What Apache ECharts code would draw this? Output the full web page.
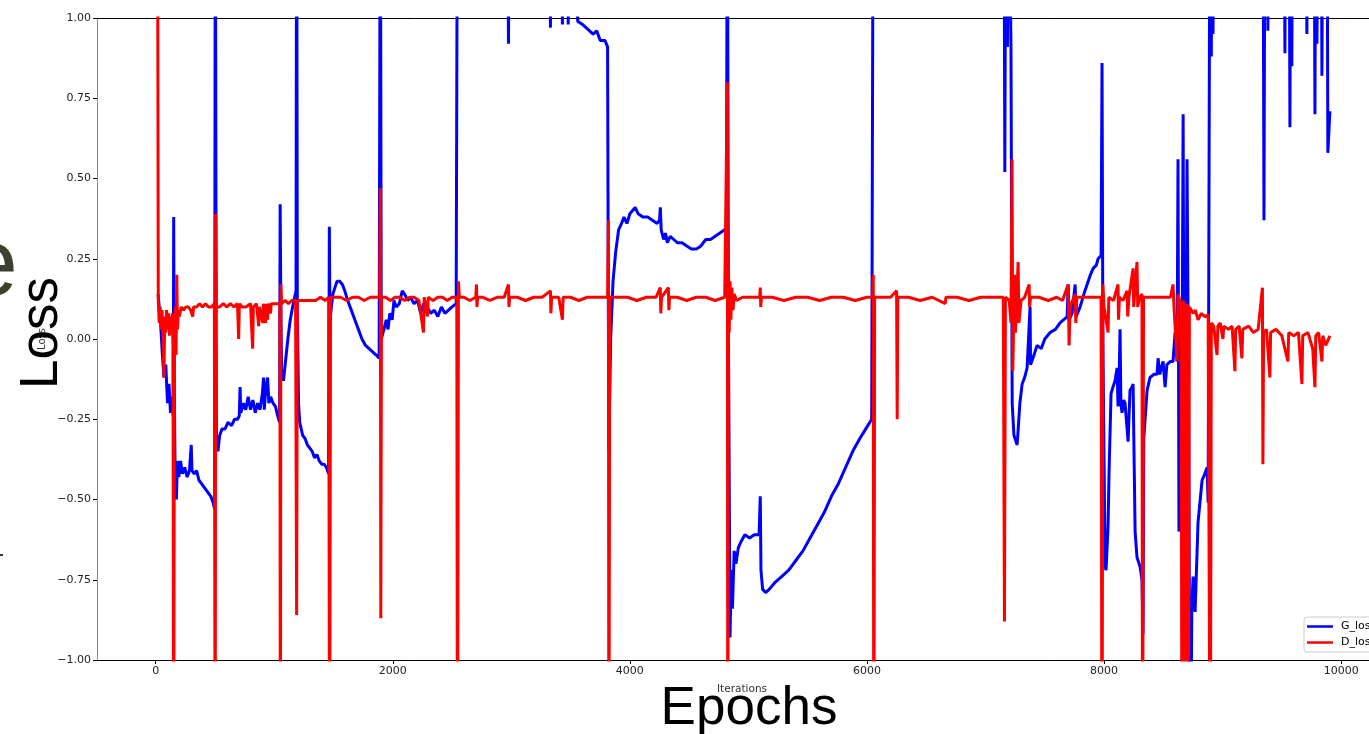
<!DOCTYPE html>
<html>
<head>
<meta charset="utf-8">
<style>
html,body{margin:0;padding:0;background:#fff;}
#c{width:1369px;height:734px;}
</style>
<script src="https://cdn.jsdelivr.net/npm/echarts@6/dist/echarts.min.js"></script>
</head>
<body>
<div id="c"></div>
<script>
// ---- data (iteration, loss); values beyond +/-1 are clipped by the axis ----
const seriesNames = ['G_loss', 'D_loss'];
const xTickValues = [0, 2000, 4000, 6000, 8000, 10000];

const G_loss = [
[20,0.14],[40,0.06],[55,-0.04],[70,-0.12],[85,-0.08],[100,-0.2],[112,-0.14],[125,-0.23],[138,-0.18],[148,-0.24],[152,0.38],[157,-0.15],[165,-0.45],[175,-0.5],[183,-0.38],[195,-0.43],[210,-0.38],[225,-0.42],[245,-0.4],[265,-0.43],[285,-0.41],[300,-0.33],[306,-0.41],[325,-0.42],[345,-0.41],[365,-0.44],[385,-0.45],[405,-0.46],[425,-0.47],[445,-0.48],[465,-0.49],[485,-0.51],[497,-0.53],[503,1.6],[512,-0.3],[525,-0.35],[540,-0.3],[560,-0.28],[585,-0.28],[610,-0.26],[640,-0.27],[665,-0.25],[690,-0.25],[705,-0.24],[712,-0.15],[718,-0.23],[740,-0.2],[760,-0.22],[780,-0.18],[800,-0.22],[820,-0.19],[840,-0.23],[860,-0.2],[880,-0.22],[900,-0.17],[910,-0.12],[916,-0.22],[930,-0.15],[944,-0.12],[955,-0.2],[970,-0.18],[990,-0.2],[1010,-0.21],[1030,-0.24],[1045,-0.26],[1050,0.42],[1056,0.1],[1062,-0.1],[1078,-0.13],[1095,-0.07],[1115,0.0],[1135,0.06],[1155,0.1],[1172,0.13],[1184,0.15],[1189,1.6],[1195,0.1],[1205,-0.2],[1215,-0.26],[1240,-0.3],[1260,-0.31],[1280,-0.33],[1300,-0.34],[1320,-0.35],[1340,-0.37],[1360,-0.36],[1380,-0.38],[1400,-0.39],[1420,-0.39],[1440,-0.4],[1458,-0.42],[1465,0.35],[1470,0.05],[1482,0.1],[1495,0.14],[1512,0.16],[1530,0.18],[1552,0.18],[1575,0.17],[1595,0.15],[1620,0.12],[1650,0.09],[1680,0.06],[1710,0.03],[1740,0.0],[1770,-0.02],[1800,-0.03],[1830,-0.04],[1860,-0.05],[1885,-0.06],[1895,1.6],[1903,0.0],[1925,0.03],[1945,0.06],[1960,0.03],[1975,0.08],[1995,0.06],[2010,0.12],[2030,0.1],[2055,0.11],[2080,0.15],[2100,0.14],[2125,0.12],[2150,0.13],[2180,0.11],[2210,0.12],[2235,0.08],[2260,0.11],[2290,0.1],[2320,0.08],[2350,0.09],[2380,0.07],[2410,0.1],[2440,0.08],[2470,0.09],[2500,0.1],[2535,0.11],[2546,1.6],[2965,1.6],[2976,0.92],[2986,1.6],[3320,1.6],[3330,0.97],[3340,1.6],[3420,1.6],[3431,0.98],[3440,1.6],[3470,1.6],[3480,0.98],[3490,1.6],[3540,1.6],[3560,0.99],[3600,0.98],[3630,0.97],[3660,0.96],[3690,0.95],[3720,0.96],[3750,0.93],[3790,0.93],[3812,0.91],[3822,-0.35],[3838,0.0],[3858,0.18],[3880,0.27],[3905,0.34],[3930,0.36],[3950,0.38],[3975,0.36],[4000,0.39],[4045,0.41],[4070,0.39],[4110,0.38],[4150,0.38],[4190,0.37],[4230,0.36],[4250,0.37],[4257,0.41],[4264,0.34],[4285,0.31],[4300,0.33],[4316,0.3],[4340,0.32],[4370,0.31],[4400,0.3],[4440,0.3],[4480,0.29],[4520,0.28],[4560,0.28],[4600,0.29],[4640,0.31],[4680,0.31],[4720,0.32],[4760,0.33],[4800,0.34],[4815,0.35],[4822,1.6],[4832,0.0],[4845,-0.93],[4855,-0.72],[4865,-0.84],[4880,-0.66],[4895,-0.7],[4915,-0.65],[4940,-0.63],[4970,-0.61],[5010,-0.62],[5050,-0.61],[5090,-0.61],[5100,-0.49],[5106,-0.72],[5120,-0.78],[5145,-0.79],[5175,-0.78],[5220,-0.76],[5280,-0.74],[5340,-0.72],[5400,-0.69],[5460,-0.66],[5520,-0.62],[5580,-0.58],[5640,-0.54],[5700,-0.49],[5760,-0.45],[5820,-0.4],[5880,-0.35],[5940,-0.31],[5990,-0.28],[6040,-0.25],[6053,1.6],[7155,1.6],[7163,0.52],[7172,1.6],[7185,0.91],[7195,1.6],[7215,0.9],[7225,-0.2],[7240,-0.3],[7267,-0.33],[7290,-0.2],[7309,-0.14],[7330,-0.12],[7351,-0.09],[7376,0.1],[7380,-0.08],[7400,-0.06],[7435,-0.02],[7470,-0.03],[7500,0.0],[7545,0.02],[7590,0.03],[7629,0.05],[7660,0.06],[7689,0.07],[7697,0.17],[7705,0.06],[7730,0.08],[7756,0.17],[7765,0.07],[7798,0.1],[7830,0.14],[7857,0.17],[7885,0.2],[7908,0.22],[7935,0.23],[7950,0.25],[7975,0.26],[7983,0.86],[7990,0.0],[8009,-0.71],[8017,-0.72],[8034,-0.58],[8042,-0.42],[8059,-0.17],[8075,-0.15],[8093,-0.13],[8110,-0.09],[8118,-0.21],[8126,-0.15],[8135,0.03],[8142,-0.2],[8152,-0.23],[8165,-0.19],[8177,-0.2],[8203,-0.32],[8219,-0.16],[8235,-0.15],[8245,-0.14],[8262,-0.6],[8278,-0.68],[8304,-0.71],[8320,-0.75],[8329,-0.92],[8335,-0.31],[8363,-0.16],[8388,-0.12],[8420,-0.11],[8447,-0.11],[8456,-0.06],[8470,-0.11],[8498,-0.07],[8515,-0.15],[8530,-0.08],[8560,-0.07],[8582,-0.07],[8599,0.02],[8616,-0.07],[8624,0.56],[8632,-0.6],[8645,-0.45],[8655,-0.4],[8667,0.70],[8680,-0.9],[8700,0.56],[8715,-0.3],[8726,-1.6],[8740,-0.85],[8751,-0.74],[8768,-0.85],[8793,-0.57],[8827,-0.44],[8850,-0.42],[8869,-0.40],[8878,-0.51],[8894,1.6],[8905,0.88],[8912,1.6],[8919,0.95],[8930,1.6],[9340,1.6],[9349,0.37],[9358,1.6],[9375,1.6],[9382,0.96],[9390,1.6],[9515,1.6],[9526,0.89],[9532,1.6],[9560,1.6],[9568,0.66],[9576,1.6],[9584,0.85],[9592,1.6],[9700,1.6],[9711,0.95],[9720,1.6],[9770,1.6],[9779,0.70],[9787,1.6],[9796,0.92],[9805,1.6],[9830,1.6],[9838,0.82],[9846,1.6],[9880,1.6],[9888,0.58],[9905,0.71]
];

const D_loss = [
[15,1.6],[22,0.12],[30,0.05],[38,0.1],[46,0.03],[54,0.09],[62,0.02],[70,-0.12],[76,0.07],[84,0.02],[92,0.09],[100,0.03],[108,0.08],[116,0.01],[124,0.07],[132,0.02],[140,0.08],[146,-0.02],[152,-1.6],[158,0.04],[166,0.1],[172,-0.05],[178,0.2],[184,0.03],[192,0.09],[200,0.07],[215,0.1],[235,0.09],[255,0.1],[275,0.1],[295,0.09],[312,0.07],[320,0.1],[345,0.1],[370,0.11],[395,0.1],[420,0.11],[445,0.1],[470,0.1],[495,0.11],[502,-1.6],[506,0.39],[512,0.1],[540,0.1],[570,0.11],[600,0.1],[630,0.11],[660,0.1],[690,0.11],[700,0.0],[706,0.11],[730,0.1],[760,0.1],[800,0.11],[818,-0.03],[824,0.1],[850,0.11],[869,0.04],[875,0.1],[903,0.05],[908,0.11],[928,0.05],[934,0.11],[944,0.06],[950,0.11],[969,0.08],[975,0.11],[1000,0.11],[1025,0.11],[1048,0.11],[1052,-1.6],[1056,0.17],[1062,0.11],[1090,0.12],[1120,0.11],[1150,0.12],[1180,0.12],[1189,-0.86],[1195,0.12],[1230,0.12],[1270,0.12],[1310,0.12],[1350,0.12],[1390,0.13],[1430,0.12],[1460,0.13],[1467,-1.6],[1475,0.13],[1510,0.13],[1560,0.13],[1610,0.12],[1660,0.13],[1710,0.13],[1760,0.12],[1810,0.13],[1860,0.13],[1890,0.13],[1895,0.47],[1899,-0.87],[1905,0.13],[1940,0.13],[1980,0.12],[2020,0.13],[2060,0.13],[2100,0.12],[2140,0.13],[2180,0.13],[2220,0.12],[2259,0.02],[2265,0.13],[2293,0.07],[2299,0.13],[2340,0.12],[2380,0.13],[2420,0.13],[2460,0.12],[2500,0.13],[2540,0.13],[2546,-1.6],[2554,0.18],[2562,0.13],[2600,0.13],[2650,0.12],[2700,0.13],[2706,0.17],[2710,0.1],[2716,0.13],[2760,0.13],[2820,0.12],[2880,0.13],[2940,0.13],[2976,0.17],[2980,0.1],[2986,0.13],[3050,0.13],[3120,0.12],[3190,0.13],[3260,0.13],[3330,0.15],[3334,0.08],[3340,0.13],[3400,0.13],[3431,0.06],[3437,0.13],[3500,0.13],[3570,0.12],[3640,0.13],[3710,0.13],[3780,0.13],[3812,0.13],[3819,0.37],[3823,-1.6],[3830,0.13],[3900,0.13],[3980,0.13],[4060,0.12],[4140,0.13],[4220,0.13],[4257,0.16],[4261,0.08],[4267,0.13],[4325,0.16],[4329,0.09],[4335,0.13],[4400,0.13],[4480,0.12],[4560,0.13],[4640,0.13],[4720,0.12],[4800,0.13],[4815,0.13],[4822,0.8],[4826,-1.6],[4832,0.22],[4838,0.02],[4845,0.18],[4852,0.06],[4860,0.16],[4870,0.09],[4880,0.14],[4900,0.12],[4950,0.13],[5020,0.13],[5095,0.13],[5100,0.16],[5104,0.1],[5110,0.13],[5200,0.13],[5300,0.12],[5400,0.13],[5500,0.13],[5600,0.12],[5700,0.13],[5800,0.13],[5900,0.12],[6000,0.13],[6048,0.13],[6053,0.2],[6058,-1.6],[6065,0.13],[6120,0.13],[6200,0.13],[6250,0.15],[6255,-0.25],[6260,0.13],[6350,0.13],[6450,0.12],[6550,0.13],[6660,0.11],[6666,0.13],[6760,0.13],[6860,0.12],[6960,0.13],[7060,0.13],[7150,0.13],[7160,-0.88],[7168,0.13],[7200,0.12],[7215,0.05],[7224,0.56],[7230,-0.1],[7245,0.2],[7252,0.02],[7262,0.1],[7275,0.24],[7282,0.05],[7300,0.12],[7330,0.13],[7368,0.17],[7372,0.1],[7380,0.13],[7450,0.13],[7530,0.12],[7600,0.13],[7650,0.12],[7697,0.17],[7705,-0.02],[7714,0.1],[7756,0.14],[7762,0.05],[7770,0.13],[7850,0.13],[7920,0.13],[7975,0.13],[7983,-1.6],[7990,0.17],[8000,0.1],[8034,0.02],[8040,0.13],[8080,0.12],[8118,0.17],[8122,0.06],[8130,0.13],[8160,0.12],[8194,0.15],[8200,0.07],[8210,0.13],[8245,0.22],[8250,0.1],[8278,0.24],[8284,0.1],[8300,0.13],[8320,0.14],[8325,-1.6],[8333,0.13],[8400,0.13],[8480,0.13],[8560,0.13],[8582,0.17],[8590,0.1],[8616,-0.07],[8625,0.14],[8650,0.1],[8658,-1.6],[8668,0.12],[8680,0.08],[8692,-1.6],[8700,0.11],[8709,-1.6],[8720,0.1],[8751,0.08],[8770,0.09],[8793,0.06],[8820,0.08],[8850,0.07],[8878,0.075],[8890,0.07],[8896,-1.6],[8905,0.05],[8925,0.04],[8953,-0.05],[8960,0.04],[8980,0.05],[9003,0.0],[9010,0.04],[9050,0.03],[9080,0.04],[9104,-0.1],[9110,0.03],[9140,0.04],[9163,-0.06],[9170,0.03],[9220,0.04],[9260,0.02],[9300,0.03],[9336,0.16],[9340,-0.39],[9346,0.02],[9370,0.03],[9399,-0.12],[9405,0.02],[9450,0.03],[9500,0.01],[9551,-0.07],[9558,0.02],[9600,0.01],[9640,0.02],[9669,-0.14],[9676,0.01],[9720,0.02],[9760,-0.03],[9779,-0.15],[9786,0.01],[9810,0.02],[9838,-0.07],[9845,0.01],[9870,-0.02],[9905,0.01]
];

const fmtNum = v => (v < 0 ? '\u2212' : '') + Math.abs(v).toFixed(2);

const chart = echarts.init(document.getElementById('c'), null, {renderer: 'canvas'});
const tickFont = {fontFamily: 'DejaVu Sans', fontSize: 11, color: '#222'};

chart.setOption({
  animation: false,
  backgroundColor: '#ffffff',
  grid: {left: 97, top: 18, right: 0, bottom: 74, containLabel: false},
  xAxis: [{
    type: 'value', min: -495, max: 10235, position: 'bottom',
    splitLine: {show: false},
    axisLine: {show: true, onZero: false, lineStyle: {color: '#000', width: 1}},
    axisTick: {show: true, length: 4, customValues: xTickValues, lineStyle: {color: '#000'}},
    axisLabel: Object.assign({margin: 6, customValues: xTickValues, formatter: v => String(v)}, tickFont)
  }, {
    type: 'value', min: -495, max: 10235, position: 'top',
    splitLine: {show: false},
    axisLine: {show: true, onZero: false, lineStyle: {color: '#000', width: 1}},
    axisTick: {show: false}, axisLabel: {show: false}
  }],
  yAxis: {
    type: 'value', min: -1, max: 1, interval: 0.25,
    splitLine: {show: false},
    axisLine: {show: true, onZero: false, lineStyle: {color: '#888', width: 1}},
    axisTick: {show: true, length: 4, lineStyle: {color: '#000'}},
    axisLabel: Object.assign({margin: 6, formatter: fmtNum}, tickFont)
  },
  legend: {
    show: true, orient: 'vertical', left: 1304, top: 617,
    data: seriesNames,
    icon: 'rect', itemWidth: 26, itemHeight: 2.5, itemGap: 5,
    padding: [4, 6, 4, 3],
    backgroundColor: '#fff', borderColor: '#ccc', borderWidth: 1, borderRadius: 3,
    textStyle: {fontFamily: 'DejaVu Sans', fontSize: 11, color: '#000', padding: [0, 0, 0, 3]}
  },
  series: [{
    name: seriesNames[0], type: 'line', data: G_loss, showSymbol: false, clip: true,
    lineStyle: {color: '#0000ff', width: 3}, itemStyle: {color: '#0000ff'}, z: 2
  }, {
    name: seriesNames[1], type: 'line', data: D_loss, showSymbol: false, clip: true,
    lineStyle: {color: '#ff0000', width: 3}, itemStyle: {color: '#ff0000'}, z: 3
  }],
  graphic: [
    {type: 'text', z: 10, rotation: Math.PI / 2, x: 42, y: 339,
     style: {text: 'Loss', font: '10px "DejaVu Sans"', fill: '#333', textAlign: 'center', textVerticalAlign: 'middle'}},
    {type: 'text', z: 20, rotation: Math.PI / 2, x: 42, y: 333,
     style: {text: 'Loss', font: '53px "Liberation Sans"', fill: '#000', textAlign: 'center', textVerticalAlign: 'middle'}},
    {type: 'text', z: 10, x: 742, y: 689,
     style: {text: 'Iterations', font: '10.5px "DejaVu Sans"', fill: '#333', textAlign: 'center', textVerticalAlign: 'middle'}},
    {type: 'text', z: 20, x: 749, y: 709,
     style: {text: 'Epochs', font: '53px "Liberation Sans"', fill: '#000', textAlign: 'center', textVerticalAlign: 'middle'}},
    {type: 'text', z: 20, x: 18, y: 269,
     style: {text: 'e', font: '96px "Liberation Sans"', fill: '#3f3f30', textAlign: 'right', textVerticalAlign: 'middle'}},
    {type: 'rect', z: 20, shape: {x: 0, y: 554, width: 3, height: 2}, style: {fill: '#333'}}
  ]
});
</script>
</body>
</html>
